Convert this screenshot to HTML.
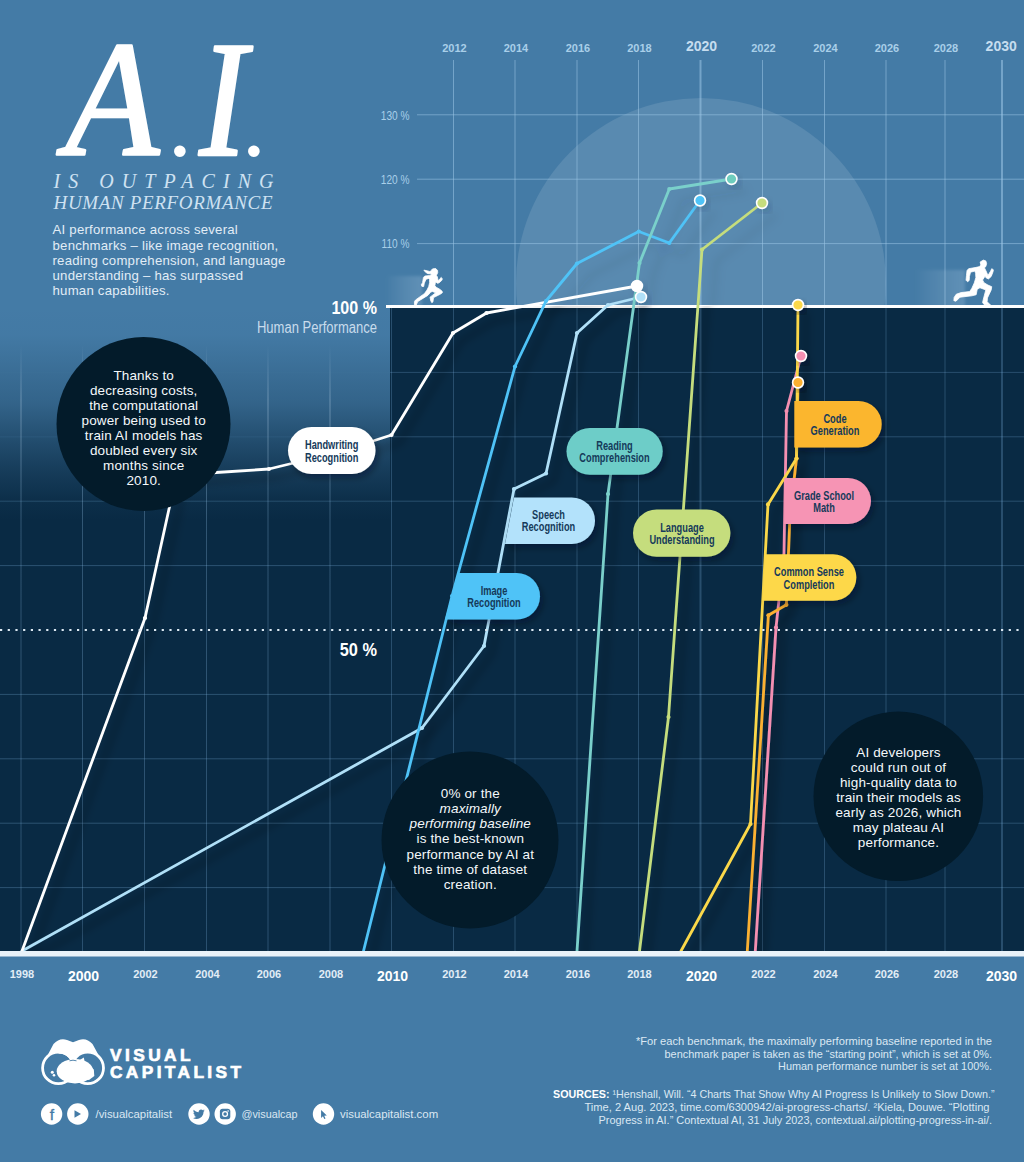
<!DOCTYPE html>
<html lang="en"><head><meta charset="utf-8"><title>A.I. Is Outpacing Human Performance</title>
<style>
html,body{margin:0;padding:0;background:#447ba6;}
body{width:1024px;height:1162px;overflow:hidden;font-family:"Liberation Sans",sans-serif;}
svg{display:block}
text{font-family:"Liberation Sans",sans-serif;}
.serif{font-family:"Liberation Serif",serif;font-style:italic;}
.lbl{font-weight:bold;font-size:12.5px;fill:#153a5a;text-anchor:middle;}
.ct{font-size:13.5px;letter-spacing:0.15px;fill:#f4f8fb;text-anchor:middle;}
.ax{font-size:11px;font-weight:bold;text-anchor:middle;}
.axb{font-size:14px;font-weight:bold;text-anchor:middle;}
.ft{font-size:11px;fill:#dbe8f3;}
</style></head><body>
<svg width="1024" height="1162" viewBox="0 0 1024 1162">
<defs>
<linearGradient id="lg" x1="0" y1="0" x2="0" y2="1">
<stop offset="0" stop-color="#092a44" stop-opacity="0"/>
<stop offset="0.136" stop-color="#092a44" stop-opacity="0.02"/>
<stop offset="0.453" stop-color="#092a44" stop-opacity="0.29"/>
<stop offset="0.65" stop-color="#092a44" stop-opacity="0.6"/>
<stop offset="0.766" stop-color="#092a44" stop-opacity="0.77"/>
<stop offset="0.907" stop-color="#092a44" stop-opacity="0.94"/>
<stop offset="1" stop-color="#092a44" stop-opacity="1"/>
</linearGradient>
<linearGradient id="gf" x1="0" y1="0" x2="0" y2="1">
<stop offset="0" stop-color="#fff" stop-opacity="0"/>
<stop offset="0.4" stop-color="#fff" stop-opacity="0.22"/>
<stop offset="0.75" stop-color="#fff" stop-opacity="0.8"/>
<stop offset="1" stop-color="#fff" stop-opacity="1"/>
</linearGradient>
<mask id="gm" maskUnits="userSpaceOnUse" x="0" y="300" width="390" height="660">
<rect x="0" y="350" width="390" height="200" fill="url(#gf)"/>
<rect x="0" y="550" width="390" height="410" fill="#fff"/>
</mask>
<linearGradient id="vg" gradientUnits="userSpaceOnUse" x1="0" y1="345" x2="0" y2="951">
<stop offset="0" stop-color="#cfe4f6" stop-opacity="0"/>
<stop offset="0.09" stop-color="#cfe4f6" stop-opacity="0.36"/>
<stop offset="0.2" stop-color="#a9cdea" stop-opacity="0.34"/>
<stop offset="0.3" stop-color="#8dbbe2" stop-opacity="0.3"/>
<stop offset="1" stop-color="#7fb2df" stop-opacity="0.28"/>
</linearGradient>
<linearGradient id="glow" x1="0" y1="0" x2="1" y2="0">
<stop offset="0" stop-color="#fff" stop-opacity="0"/>
<stop offset="1" stop-color="#cfe6f7" stop-opacity="0.2"/>
</linearGradient>
<filter id="bl" x="-20%" y="-20%" width="140%" height="140%"><feGaussianBlur stdDeviation="1.6"/></filter>
<filter id="sh" x="-10%" y="-10%" width="125%" height="125%">
<feDropShadow dx="8" dy="8" stdDeviation="4" flood-color="#000814" flood-opacity="0.42"/>
</filter>
<filter id="sht" x="-10%" y="-10%" width="125%" height="125%">
<feDropShadow dx="14" dy="12" stdDeviation="5" flood-color="#0a2240" flood-opacity="0.13"/>
</filter>
<filter id="sh3" x="-30%" y="-30%" width="180%" height="180%">
<feDropShadow dx="3" dy="4" stdDeviation="3" flood-color="#0a2240" flood-opacity="0.16"/>
</filter>
<clipPath id="botclip"><rect x="0" y="306" width="1024" height="645"/></clipPath>
<filter id="sh2" x="-20%" y="-20%" width="150%" height="160%">
<feDropShadow dx="3" dy="4" stdDeviation="3" flood-color="#000814" flood-opacity="0.35"/>
</filter>
<clipPath id="chartclip"><rect x="0" y="0" width="1024" height="951"/></clipPath>
<clipPath id="topclip"><rect x="0" y="0" width="1024" height="306"/></clipPath>
</defs>
<rect width="1024" height="1162" fill="#447ba6"/>

<rect x="0" y="306" width="390" height="214" fill="url(#lg)"/>
<rect x="0" y="520" width="390" height="431" fill="#092a44"/>
<rect x="390" y="306" width="634" height="645" fill="#092a44"/>
<circle cx="701" cy="283" r="185" fill="#fff" fill-opacity="0.115" clip-path="url(#topclip)"/>
<g stroke="#9cc6e6" stroke-opacity="0.55" stroke-width="1">
<line x1="453.5" y1="60" x2="453.5" y2="305"/>
<line x1="515" y1="60" x2="515" y2="305"/>
<line x1="577" y1="60" x2="577" y2="305"/>
<line x1="638.5" y1="60" x2="638.5" y2="305"/>
<line x1="700.5" y1="60" x2="700.5" y2="305" stroke-width="2"/>
<line x1="762.5" y1="60" x2="762.5" y2="305"/>
<line x1="824.5" y1="60" x2="824.5" y2="305"/>
<line x1="886" y1="60" x2="886" y2="305"/>
<line x1="945" y1="60" x2="945" y2="305"/>
<line x1="1002" y1="60" x2="1002" y2="305" stroke-width="2"/>
<line x1="417" y1="114.8" x2="1024" y2="114.8"/>
<line x1="417" y1="179.2" x2="1024" y2="179.2"/>
<line x1="417" y1="243.6" x2="1024" y2="243.6"/>
</g>
<g stroke="#7fb2df" stroke-opacity="0.27" stroke-width="1">
<line x1="391.5" y1="308" x2="391.5" y2="951"/>
<line x1="453.5" y1="308" x2="453.5" y2="951"/>
<line x1="515" y1="308" x2="515" y2="951"/>
<line x1="577" y1="308" x2="577" y2="951"/>
<line x1="638.5" y1="308" x2="638.5" y2="951"/>
<line x1="700.5" y1="308" x2="700.5" y2="951" stroke-width="2"/>
<line x1="762.5" y1="308" x2="762.5" y2="951"/>
<line x1="824.5" y1="308" x2="824.5" y2="951"/>
<line x1="886" y1="308" x2="886" y2="951"/>
<line x1="945" y1="308" x2="945" y2="951"/>
<line x1="1002" y1="308" x2="1002" y2="951" stroke-width="2"/>
<line x1="390" y1="887.6" x2="1024" y2="887.6"/>
<line x1="390" y1="823.2" x2="1024" y2="823.2"/>
<line x1="390" y1="758.8" x2="1024" y2="758.8"/>
<line x1="390" y1="694.4" x2="1024" y2="694.4"/>
<line x1="390" y1="565.6" x2="1024" y2="565.6"/>
<line x1="390" y1="501.2" x2="1024" y2="501.2"/>
<line x1="390" y1="436.8" x2="1024" y2="436.8"/>
<line x1="390" y1="372.4" x2="1024" y2="372.4"/>
</g>
<g stroke="url(#vg)" stroke-width="1">
<line x1="21" y1="345" x2="21.01" y2="951"/>
<line x1="82.5" y1="345" x2="82.51" y2="951"/>
<line x1="144.5" y1="345" x2="144.51" y2="951"/>
<line x1="206.5" y1="345" x2="206.51" y2="951"/>
<line x1="268" y1="345" x2="268.01" y2="951"/>
<line x1="330" y1="345" x2="330.01" y2="951"/>
</g>
<g stroke="#7fb2df" stroke-opacity="0.3" stroke-width="1" mask="url(#gm)">
<line x1="0" y1="887.6" x2="390" y2="887.6"/>
<line x1="0" y1="823.2" x2="390" y2="823.2"/>
<line x1="0" y1="758.8" x2="390" y2="758.8"/>
<line x1="0" y1="694.4" x2="390" y2="694.4"/>
<line x1="0" y1="565.6" x2="390" y2="565.6"/>
<line x1="0" y1="501.2" x2="390" y2="501.2"/>
<line x1="0" y1="436.8" x2="390" y2="436.8"/>
<line x1="0" y1="372.4" x2="390" y2="372.4"/>
</g>
<rect x="386" y="276" width="36" height="31" fill="url(#glow)" filter="url(#bl)"/>
<rect x="915" y="270" width="50" height="37" fill="url(#glow)" filter="url(#bl)"/>
<rect x="386" y="305" width="638" height="3" fill="#ffffff"/>
<rect x="0" y="951" width="1024" height="5.5" fill="#e9f2f9"/>
<g clip-path="url(#topclip)"><g fill="none" stroke-width="2.8" stroke-linejoin="round" stroke-linecap="round" filter="url(#sht)">
<path d="M22,951 L422,728 L484,646 L514,489 L546,473.5 L577,333 L608,305 L641,297" stroke="#b0e0f8"/>
<path d="M22,951 L145,618 L169,509 L177,476 L216,472.5 L269,469 L291.5,463.5 L374.5,440.5 L391.5,435 L453,333 L486.5,313 L637,286" stroke="#ffffff"/>
<path d="M363.5,951 L452,596 L515,366.5 L546,301 L577,263.5 L638.8,231.5 L669.3,243 L700,200.5" stroke="#4fc3f7"/>
<path d="M577,951 L608,494 L639.5,263 L669.3,189 L731.5,179" stroke="#7ad0cb"/>
<path d="M639.5,951 L668.5,717 L702,249.5 L762,203" stroke="#c5dd7d"/>
<path d="M755.3,951 L776,627.6 L784,553 L786.5,411 L801,356" stroke="#f48fb1"/>
<path d="M747.3,951 L768.4,615.3 L786.4,604.8 L790,515 L796.5,458.5 L798,382.5" stroke="#fbb030"/>
<path d="M681,951 L750.5,824 L768,504.4 L796.5,458.5 L798,305" stroke="#fbd84a"/>
</g></g>
<g clip-path="url(#botclip)"><g fill="none" stroke-width="2.8" stroke-linejoin="round" stroke-linecap="round" filter="url(#sh)">
<path d="M22,951 L422,728 L484,646 L514,489 L546,473.5 L577,333 L608,305 L641,297" stroke="#b0e0f8"/>
<path d="M22,951 L145,618 L169,509 L177,476 L216,472.5 L269,469 L291.5,463.5 L374.5,440.5 L391.5,435 L453,333 L486.5,313 L637,286" stroke="#ffffff"/>
<path d="M363.5,951 L452,596 L515,366.5 L546,301 L577,263.5 L638.8,231.5 L669.3,243 L700,200.5" stroke="#4fc3f7"/>
<path d="M577,951 L608,494 L639.5,263 L669.3,189 L731.5,179" stroke="#7ad0cb"/>
<path d="M639.5,951 L668.5,717 L702,249.5 L762,203" stroke="#c5dd7d"/>
<path d="M755.3,951 L776,627.6 L784,553 L786.5,411 L801,356" stroke="#f48fb1"/>
<path d="M747.3,951 L768.4,615.3 L786.4,604.8 L790,515 L796.5,458.5 L798,382.5" stroke="#fbb030"/>
<path d="M681,951 L750.5,824 L768,504.4 L796.5,458.5 L798,305" stroke="#fbd84a"/>
</g></g>
<g>
<circle cx="422" cy="728" r="2.1" fill="#b0e0f8"/>
<circle cx="484" cy="646" r="2.1" fill="#b0e0f8"/>
<circle cx="514" cy="489" r="2.1" fill="#b0e0f8"/>
<circle cx="546" cy="473.5" r="2.1" fill="#b0e0f8"/>
<circle cx="577" cy="333" r="2.1" fill="#b0e0f8"/>
<circle cx="608" cy="305" r="2.1" fill="#b0e0f8"/>
<circle cx="145" cy="618" r="2.1" fill="#ffffff"/>
<circle cx="269" cy="469" r="2.1" fill="#ffffff"/>
<circle cx="391.5" cy="435" r="2.1" fill="#ffffff"/>
<circle cx="453" cy="333" r="2.1" fill="#ffffff"/>
<circle cx="486.5" cy="313" r="2.1" fill="#ffffff"/>
<circle cx="452" cy="596" r="2.1" fill="#4fc3f7"/>
<circle cx="515" cy="366.5" r="2.1" fill="#4fc3f7"/>
<circle cx="546" cy="301" r="2.1" fill="#4fc3f7"/>
<circle cx="577" cy="263.5" r="2.1" fill="#4fc3f7"/>
<circle cx="638.8" cy="231.5" r="2.1" fill="#4fc3f7"/>
<circle cx="669.3" cy="243" r="2.1" fill="#4fc3f7"/>
<circle cx="608" cy="494" r="2.1" fill="#7ad0cb"/>
<circle cx="639.5" cy="263" r="2.1" fill="#7ad0cb"/>
<circle cx="669.3" cy="189" r="2.1" fill="#7ad0cb"/>
<circle cx="668.5" cy="717" r="2.1" fill="#c5dd7d"/>
<circle cx="702" cy="249.5" r="2.1" fill="#c5dd7d"/>
<circle cx="776" cy="627.6" r="2.1" fill="#f48fb1"/>
<circle cx="786.5" cy="411" r="2.1" fill="#f48fb1"/>
<circle cx="768.4" cy="615.3" r="2.1" fill="#fbb030"/>
<circle cx="786.4" cy="604.8" r="2.1" fill="#fbb030"/>
<circle cx="796.5" cy="458.5" r="2.1" fill="#fbb030"/>
<circle cx="750.5" cy="824" r="2.1" fill="#fbd84a"/>
<circle cx="768" cy="504.4" r="2.1" fill="#fbd84a"/>
<circle cx="796.5" cy="458.5" r="2.1" fill="#fbd84a"/>
</g>
<g stroke="#ffffff" stroke-width="1.6">
<circle cx="637" cy="286" r="5.4" fill="#ffffff" filter="url(#sh3)"/>
<circle cx="641" cy="297" r="5.4" fill="#b0e0f8" filter="url(#sh3)"/>
<circle cx="700" cy="200.5" r="5.4" fill="#4fc3f7" filter="url(#sh3)"/>
<circle cx="731.5" cy="179" r="5.4" fill="#6ecdbd" filter="url(#sh3)"/>
<circle cx="762" cy="203" r="5.4" fill="#c5dd7d" filter="url(#sh3)"/>
<circle cx="798" cy="305" r="5.4" fill="#fbd84a" filter="url(#sh2)"/>
<circle cx="801" cy="356" r="5.4" fill="#f48fb1" filter="url(#sh2)"/>
<circle cx="798" cy="382.5" r="5.4" fill="#fbb030" filter="url(#sh2)"/>
</g>
<g filter="url(#sh2)">
<rect x="288" y="427" width="87.5" height="47" rx="23.5" fill="#ffffff"/>
<path d="M458,573 L516.75,573 A23.25,23.25 0 0 1 516.75,619.5 L445,619.5 Z" fill="#4fc3f7"/>
<path d="M514,497.5 L571.75,497.5 A23.25,23.25 0 0 1 571.75,544 L505,544 Z" fill="#b3e2fb"/>
<rect x="566.5" y="428" width="96.20000000000005" height="46.69999999999999" rx="23.349999999999994" fill="#6dcdc8"/>
<rect x="633" y="509.5" width="97.39999999999998" height="47.200000000000045" rx="23.600000000000023" fill="#c5dd7d"/>
<path d="M794.3,401 L858.5,401 A23.19999999999999,23.19999999999999 0 0 1 858.5,447.4 L794.3,447.4 Z" fill="#fbb62f"/>
<path d="M784.4,478 L848.0,478 A23.0,23.0 0 0 1 848.0,524 L784.4,524 Z" fill="#f694b4"/>
<path d="M765,554.2 L833.05,554.2 A23.25,23.25 0 0 1 833.05,600.7 L762.7,600.7 Z" fill="#fdd848"/>
</g>
<text class="lbl" transform="translate(331.7,449.3) scale(0.74,1)">Handwriting</text><text class="lbl" transform="translate(331.7,461.6) scale(0.74,1)">Recognition</text>
<text class="lbl" transform="translate(494,595) scale(0.74,1)">Image</text><text class="lbl" transform="translate(494,607.3) scale(0.74,1)">Recognition</text>
<text class="lbl" transform="translate(548.5,519) scale(0.74,1)">Speech</text><text class="lbl" transform="translate(548.5,531.3) scale(0.74,1)">Recognition</text>
<text class="lbl" transform="translate(614.5,450) scale(0.74,1)">Reading</text><text class="lbl" transform="translate(614.5,462.3) scale(0.74,1)">Comprehension</text>
<text class="lbl" transform="translate(682,531.5) scale(0.74,1)">Language</text><text class="lbl" transform="translate(682,543.8) scale(0.74,1)">Understanding</text>
<text class="lbl" transform="translate(835,423) scale(0.74,1)">Code</text><text class="lbl" transform="translate(835,435.3) scale(0.74,1)">Generation</text>
<text class="lbl" transform="translate(824,500) scale(0.74,1)">Grade School</text><text class="lbl" transform="translate(824,512.3) scale(0.74,1)">Math</text>
<text class="lbl" transform="translate(809,576.3) scale(0.74,1)">Common Sense</text><text class="lbl" transform="translate(809,588.5999999999999) scale(0.74,1)">Completion</text>
<line x1="0" y1="630" x2="1024" y2="630" stroke="#dde9f3" stroke-width="2.1" stroke-dasharray="2.2 5.5"/>
<circle cx="143.5" cy="424" r="87" fill="#031b2a"/>
<circle cx="470" cy="840" r="88.5" fill="#031b2a"/>
<circle cx="898.3" cy="796.3" r="84.8" fill="#031b2a"/>
<text class="ct" x="143.7" y="379.5">Thanks to</text><text class="ct" x="143.7" y="394.6">decreasing costs,</text><text class="ct" x="143.7" y="409.6">the computational</text><text class="ct" x="143.7" y="424.7">power being used to</text><text class="ct" x="143.7" y="439.8">train AI models has</text><text class="ct" x="143.7" y="454.9">doubled every six</text><text class="ct" x="143.7" y="469.9">months since</text><text class="ct" x="143.7" y="485.0">2010.</text>
<text class="ct" x="470.3" y="798.3">0% or the</text><text class="ct" x="470.3" y="813.3" font-style="italic">maximally</text><text class="ct" x="470.3" y="828.4" font-style="italic">performing baseline</text><text class="ct" x="470.3" y="843.4">is the best-known</text><text class="ct" x="470.3" y="858.5">performance by AI at</text><text class="ct" x="470.3" y="873.5">the time of dataset</text><text class="ct" x="470.3" y="888.6">creation.</text>
<text class="ct" x="898.5" y="757.2">AI developers</text><text class="ct" x="898.5" y="772.2">could run out of</text><text class="ct" x="898.5" y="787.2">high-quality data to</text><text class="ct" x="898.5" y="802.2">train their models as</text><text class="ct" x="898.5" y="817.2">early as 2026, which</text><text class="ct" x="898.5" y="832.2">may plateau AI</text><text class="ct" x="898.5" y="847.2">performance.</text>
<text class="ax" x="454.5" y="52" fill="#a9cfe9">2012</text>
<text class="ax" x="516" y="52" fill="#a9cfe9">2014</text>
<text class="ax" x="578" y="52" fill="#a9cfe9">2016</text>
<text class="ax" x="639.5" y="52" fill="#a9cfe9">2018</text>
<text class="axb" x="701.5" y="51" fill="#c6ddef">2020</text>
<text class="ax" x="763.5" y="52" fill="#a9cfe9">2022</text>
<text class="ax" x="825.5" y="52" fill="#a9cfe9">2024</text>
<text class="ax" x="887" y="52" fill="#a9cfe9">2026</text>
<text class="ax" x="946" y="52" fill="#a9cfe9">2028</text>
<text class="axb" x="1001.2" y="51" fill="#c6ddef">2030</text>
<text class="ax" x="22" y="978" fill="#e2edf6">1998</text>
<text class="axb" x="83.5" y="980.5" fill="#ffffff">2000</text>
<text class="ax" x="145.5" y="978" fill="#e2edf6">2002</text>
<text class="ax" x="207.5" y="978" fill="#e2edf6">2004</text>
<text class="ax" x="269" y="978" fill="#e2edf6">2006</text>
<text class="ax" x="331" y="978" fill="#e2edf6">2008</text>
<text class="axb" x="392.5" y="980.5" fill="#ffffff">2010</text>
<text class="ax" x="454.5" y="978" fill="#e2edf6">2012</text>
<text class="ax" x="516" y="978" fill="#e2edf6">2014</text>
<text class="ax" x="578" y="978" fill="#e2edf6">2016</text>
<text class="ax" x="639.5" y="978" fill="#e2edf6">2018</text>
<text class="axb" x="701.5" y="980.5" fill="#ffffff">2020</text>
<text class="ax" x="763.5" y="978" fill="#e2edf6">2022</text>
<text class="ax" x="825.5" y="978" fill="#e2edf6">2024</text>
<text class="ax" x="887" y="978" fill="#e2edf6">2026</text>
<text class="ax" x="946" y="978" fill="#e2edf6">2028</text>
<text class="axb" x="1001.5" y="980.5" fill="#ffffff">2030</text>
<text transform="translate(409.5,119.5) scale(0.78,1)" font-size="13" fill="#a9cfe9" text-anchor="end">130 %</text>
<text transform="translate(409.5,183.9) scale(0.78,1)" font-size="13" fill="#a9cfe9" text-anchor="end">120 %</text>
<text transform="translate(409.5,248.3) scale(0.78,1)" font-size="13" fill="#a9cfe9" text-anchor="end">110 %</text>
<text transform="translate(377,313.7) scale(0.86,1)" font-size="18.7" font-weight="bold" fill="#ffffff" text-anchor="end">100 %</text>
<text transform="translate(377,332.7) scale(0.835,1)" font-size="15.6" fill="#c9dcec" text-anchor="end">Human Performance</text>
<text transform="translate(377,655.7) scale(0.86,1)" font-size="19" font-weight="bold" fill="#ffffff" text-anchor="end">50 %</text>
<g fill="#ffffff" stroke="#ffffff" stroke-width="2.6" stroke-linejoin="round"><text class="serif" font-size="164.5" transform="translate(65.3,155.4) scale(0.935,1)">A</text><text class="serif" font-size="164.5" transform="translate(199.3,155.4) scale(0.87,1)">I</text></g><text class="serif" font-size="98" fill="#ffffff" x="170" y="156">.</text><text class="serif" font-size="98" fill="#ffffff" x="244" y="156">.</text>
<text class="serif" x="53.5" y="187.7" font-size="20" fill="#cfe2f2" textLength="220" lengthAdjust="spacing">IS OUTPACING</text>
<text class="serif" x="53.5" y="209.3" font-size="19" fill="#cfe2f2" textLength="219" lengthAdjust="spacing">HUMAN PERFORMANCE</text>
<text x="52.5" y="234.3" font-size="13.2" letter-spacing="0.23" fill="#e2edf6">AI performance across several</text>
<text x="52.5" y="249.5" font-size="13.2" letter-spacing="0.23" fill="#e2edf6">benchmarks – like image recognition,</text>
<text x="52.5" y="264.7" font-size="13.2" letter-spacing="0.23" fill="#e2edf6">reading comprehension, and language</text>
<text x="52.5" y="279.9" font-size="13.2" letter-spacing="0.23" fill="#e2edf6">understanding – has surpassed</text>
<text x="52.5" y="295.1" font-size="13.2" letter-spacing="0.23" fill="#e2edf6">human capabilities.</text>
<text class="ft" x="636" y="1045" textLength="356" lengthAdjust="spacingAndGlyphs">*For each benchmark, the maximally performing baseline reported in the</text>
<text class="ft" x="664.5" y="1057.6" textLength="327.5" lengthAdjust="spacingAndGlyphs">benchmark paper is taken as the “starting point”, which is set at 0%.</text>
<text class="ft" x="778" y="1070.2" textLength="214" lengthAdjust="spacingAndGlyphs">Human performance number is set at 100%.</text>
<text class="ft" x="584.5" y="1110.6" textLength="405" lengthAdjust="spacingAndGlyphs">Time, 2 Aug. 2023, time.com/6300942/ai-progress-charts/. ²Kiela, Douwe. “Plotting</text>
<text class="ft" x="598.5" y="1123.6" textLength="393.5" lengthAdjust="spacingAndGlyphs">Progress in AI.” Contextual AI, 31 July 2023, contextual.ai/plotting-progress-in-ai/.</text>
<text class="ft" x="553" y="1097.6" textLength="441.5" lengthAdjust="spacingAndGlyphs"><tspan font-weight="bold" fill="#ffffff">SOURCES:</tspan>  ¹Henshall, Will. “4 Charts That Show Why AI Progress Is Unlikely to Slow Down.”</text>
<text x="110" y="1061" font-size="17.3" font-weight="bold" fill="#ffffff" stroke="#ffffff" stroke-width="0.7" textLength="80.5" lengthAdjust="spacing">VISUAL</text>
<text x="110" y="1077.5" font-size="17.3" font-weight="bold" fill="#ffffff" stroke="#ffffff" stroke-width="0.7" textLength="131" lengthAdjust="spacing">CAPITALIST</text>
<g fill="#ffffff">
<circle cx="51.6" cy="1114" r="10.7"/>
<circle cx="77.8" cy="1114" r="10.7"/>
<circle cx="199" cy="1114" r="10.7"/>
<circle cx="225.2" cy="1114" r="10.7"/>
<circle cx="323.5" cy="1114" r="10.7"/>
</g>
<text x="95.5" y="1118" font-size="11.4" fill="#dbe8f3">/visualcapitalist</text>
<text x="241.5" y="1118" font-size="11.4" fill="#dbe8f3" textLength="56" lengthAdjust="spacingAndGlyphs">@visualcap</text>
<text x="340" y="1118" font-size="11.4" fill="#dbe8f3">visualcapitalist.com</text>
<g fill="#ffffff" stroke="#ffffff" stroke-width="0.8" stroke-linejoin="round"><polygon points="433.12,268.81 435.76,268.59 437.51,270.35 437.73,272.54 436.85,274.52 436.41,275.40 437.29,276.72 438.17,280.89 440.15,278.48 441.25,277.38 442.35,278.92 441.69,280.45 439.05,282.87 437.51,283.31 435.98,281.99 435.32,283.09 434.88,285.73 436.20,287.26 439.71,289.24 442.13,291.22 442.35,292.76 440.15,294.29 433.56,297.59 432.90,301.98 431.80,302.64 430.70,300.66 430.04,297.15 435.76,292.76 432.24,291.44 430.48,292.32 427.85,295.39 417.74,301.54 416.20,305.06 414.45,304.84 414.45,301.54 415.54,300.01 424.33,293.63 426.97,290.12 428.73,286.60 429.60,282.65 429.60,279.57 428.73,278.48 426.09,279.14 424.33,283.09 423.67,286.60 421.92,286.38 421.26,284.85 422.57,282.65 423.45,277.38 424.77,276.06 429.60,275.62 431.36,274.96 430.92,273.86 427.85,273.64 425.65,272.33 423.89,270.13 426.09,270.57 429.60,271.45 431.36,270.79 431.80,269.47"/><polygon points="983.40,260.10 985.82,260.91 986.62,263.59 985.82,266.55 984.47,267.89 985.82,270.57 987.96,275.41 990.65,271.11 991.72,268.69 993.34,269.77 993.07,271.65 991.19,276.48 988.50,278.90 986.35,278.09 985.01,276.21 982.59,279.97 983.94,282.66 987.96,285.08 991.72,286.69 991.19,289.91 987.43,297.96 987.16,301.72 990.38,304.95 984.21,304.68 982.59,302.53 983.67,297.96 985.82,289.91 979.91,287.76 977.22,289.37 976.15,294.74 971.85,295.82 960.04,297.16 956.01,301.19 953.86,300.65 954.13,297.43 956.28,294.21 961.11,292.59 969.70,291.52 971.85,288.30 974.27,282.93 975.88,277.56 975.61,273.26 974.81,271.11 970.51,272.19 969.44,276.48 969.17,280.51 967.56,281.75 966.05,280.24 966.48,275.41 967.02,270.57 968.63,268.69 975.08,267.62 979.91,266.55 980.71,264.67 980.18,261.98"/></g>
<g><path d="M42.5,1065 L53.5,1044 Q59.5,1037.5 67,1040 L73,1042.3 L79,1040 Q86.5,1037.5 92.5,1044 L104,1065 Z" fill="#ffffff"/><circle cx="58.4" cy="1067.9" r="15.8" fill="#447ba6" stroke="#ffffff" stroke-width="2.8"/><circle cx="87.7" cy="1067.9" r="15.8" fill="#447ba6" stroke="#ffffff" stroke-width="2.8"/><path d="M58.4,1052.1 A15.8,15.8 0 0 1 72.9,1061.6" fill="none" stroke="#ffffff" stroke-width="2.8"/><path d="M73,1043 L66,1052 L73,1060.5 L80,1052 Z" fill="#ffffff"/><ellipse cx="75" cy="1071.2" rx="18.3" ry="12.2" fill="#ffffff"/><path d="M79,1060.6 L83.8,1057.6 L85,1063.6 Z" fill="#ffffff"/><path d="M86,1064.5 L93.8,1069.5 L94.3,1076 L89,1080 L84,1079 Z" fill="#ffffff"/><circle cx="52.3" cy="1072.3" r="1.5" fill="#ffffff"/><circle cx="54" cy="1075.3" r="1.3" fill="#ffffff"/><path d="M69.5,1060.8 Q73,1059.6 76.5,1060.8" stroke="#447ba6" stroke-width="0.9" fill="none"/></g>
<text x="51.9" y="1119.6" font-size="15.5" fill="#447ba6" stroke="#447ba6" stroke-width="0.35" text-anchor="middle">f</text>
<path d="M74.5,1110.3 L81,1114 L74.5,1117.7 Z" fill="#447ba6"/>
<path transform="translate(199.3,1114.2) scale(0.86) translate(-199.3,-1114.2)" d="M205.6,1109.9 c-0.5,0.25 -1.1,0.4 -1.6,0.45 c0.6,-0.35 1,-0.9 1.2,-1.55 c-0.55,0.3 -1.15,0.55 -1.8,0.7 c-0.5,-0.55 -1.25,-0.9 -2.05,-0.9 c-1.55,0 -2.8,1.25 -2.8,2.8 c0,0.2 0,0.45 0.1,0.65 c-2.35,-0.1 -4.4,-1.25 -5.8,-2.95 c-0.25,0.4 -0.4,0.9 -0.4,1.4 c0,0.95 0.5,1.85 1.25,2.35 c-0.45,0 -0.9,-0.15 -1.25,-0.35 c0,1.4 0.95,2.5 2.25,2.8 c-0.4,0.1 -0.85,0.15 -1.25,0.05 c0.35,1.1 1.4,1.95 2.6,1.95 c-1.15,0.9 -2.65,1.35 -4.15,1.2 c1.25,0.8 2.7,1.25 4.3,1.25 c5.15,0 8,-4.3 8,-8 v-0.35 c0.55,-0.4 1,-0.9 1.4,-1.45 z" fill="#447ba6"/>
<rect x="219.9" y="1108.8" width="10.4" height="10.4" rx="2.6" fill="#447ba6"/><circle cx="225.1" cy="1114" r="2.4" fill="none" stroke="#ffffff" stroke-width="1.3"/><circle cx="228.1" cy="1111" r="0.8" fill="#ffffff"/>
<path transform="translate(323.9,1114.6) scale(0.78) translate(-323.9,-1114.4)" d="M320.3,1108.6 L320.3,1118.6 L322.7,1116.4 L324.4,1120.2 L326,1119.5 L324.3,1115.8 L327.6,1115.6 Z" fill="#447ba6"/>
</svg></body></html>
